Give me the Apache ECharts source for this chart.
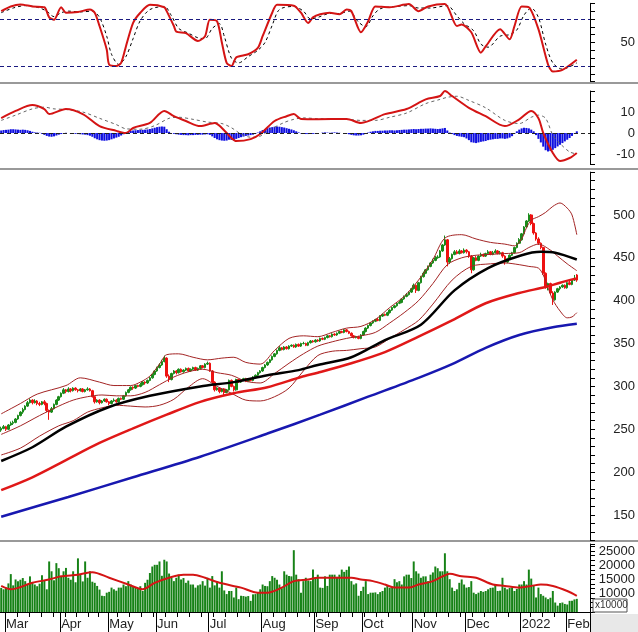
<!DOCTYPE html>
<html>
<head>
<meta charset="utf-8">
<script src="https://cdn.jsdelivr.net/npm/echarts@6/dist/echarts.min.js"></script>
<style>
  html, body { margin: 0; padding: 0; background: #fff; }
  #chart { width: 638px; height: 632px; }
</style>
</head>
<body>
<div id="chart"></div>
<script>
// trading calendar (HOSE), Feb 2021 - Feb 2022
const startDate = "2021-02-25";
const endDate = "2022-02-11";
const holidays = ["2021-04-21", "2021-04-30", "2021-05-03", "2021-09-02", "2021-09-03",
  "2022-01-03", "2022-01-31", "2022-02-01", "2022-02-02", "2022-02-03", "2022-02-04"];
const emptySlots = 5;
const monthNames = ["2022", "Feb", "Mar", "Apr", "May", "Jun", "Jul", "Aug", "Sep", "Oct", "Nov", "Dec"];

// daily candles [open, close, low, high]
const candles = [
  [249,251,247,253],[251,253,250,255],[253,250,248,254],[250,255,249,256],[255,257,254,259],
  [257,258,255,260],[258,262,257,263],[262,266,261,267],[266,270,265,271],[270,273,268,275],
  [273,277,272,278],[277,281,276,283],[281,284,280,286],[284,281,279,285],[281,283,280,285],
  [283,280,278,284],[280,279,277,282],[279,282,278,283],[282,280,278,284],[280,272,270,281],
  [272,270,261,273],[270,274,269,276],[274,279,273,280],[279,284,278,285],[284,288,283,289],
  [288,292,287,293],[292,296,291,298],[296,294,292,297],[294,297,293,299],[297,295,293,298],
  [295,298,294,299],[298,296,295,299],[296,295,293,297],[295,297,294,298],[297,294,293,298],
  [294,296,293,297],[296,297,295,299],[297,295,294,298],[295,288,287,296],[288,282,280,289],
  [282,284,281,285],[284,281,279,285],[281,283,280,284],[283,285,282,286],[285,282,281,286],
  [282,280,278,283],[280,283,279,284],[283,284,282,286],[284,282,281,285],[282,286,281,287],
  [286,285,284,287],[285,289,284,290],[289,293,288,294],[293,296,292,297],[296,299,295,300],
  [299,298,296,300],[298,301,297,302],[301,300,299,302],[300,302,299,304],[302,305,301,306],
  [305,304,302,306],[304,307,303,308],[307,310,306,311],[310,314,309,315],[314,318,313,319],
  [318,322,317,323],[322,325,321,327],[325,329,324,331],[329,333,328,336],[333,312,310,334],
  [312,308,305,314],[308,315,307,316],[315,318,314,319],[318,316,314,319],[316,320,315,321],
  [320,317,316,321],[317,319,316,320],[319,321,318,322],[321,318,317,322],[318,320,317,321],
  [320,322,319,323],[322,319,318,323],[319,321,318,322],[321,324,320,325],[324,322,321,325],
  [322,326,321,327],[326,327,325,329],[327,318,317,328],[318,305,304,319],[305,296,294,306],
  [296,298,295,299],[298,294,292,299],[294,297,293,298],[297,293,290,298],[293,296,292,297],
  [296,307,295,308],[307,300,299,308],[300,296,294,301],[296,308,295,309],[308,305,304,309],
  [305,307,304,308],[307,309,306,310],[309,306,305,310],[306,308,305,309],[308,307,306,309],
  [307,311,306,312],[311,313,310,314],[313,316,312,317],[316,318,315,319],[318,322,317,323],
  [322,325,321,326],[325,328,324,329],[328,331,327,332],[331,335,330,336],[335,338,334,339],
  [338,342,337,343],[342,345,341,347],[345,343,342,346],[343,346,342,347],[346,344,343,347],
  [344,347,343,348],[347,348,346,349],[348,346,345,349],[346,349,345,350],[349,347,346,350],
  [347,350,346,351],[350,350,349,352],[350,348,347,351],[348,351,347,352],[351,353,350,354],
  [353,352,351,354],[352,354,351,355],[354,353,352,355],[353,356,352,357],[356,355,354,357],
  [355,357,354,358],[357,359,356,360],[359,358,357,360],[358,361,357,362],[361,360,359,362],
  [360,362,359,363],[362,364,361,365],[364,363,362,365],[363,366,362,367],[366,364,363,367],
  [364,362,361,365],[362,359,358,363],[359,357,356,360],[357,358,356,359],[358,356,355,359],
  [356,360,355,361],[360,364,359,365],[364,368,363,369],[368,371,367,372],[371,374,370,375],
  [374,376,373,377],[376,378,375,379],[378,377,376,380],[377,382,376,383],[382,384,381,385],
  [384,383,382,385],[383,386,382,387],[386,389,385,390],[389,392,388,393],[392,394,391,395],
  [394,397,393,398],[397,398,396,400],[398,402,397,403],[402,405,401,406],[405,407,404,409],
  [407,410,406,411],[410,414,409,415],[414,418,413,420],[418,412,409,419],[412,421,411,422],
  [421,428,420,429],[428,432,427,434],[432,436,431,437],[436,440,435,441],[440,444,439,445],
  [444,447,443,449],[447,450,446,452],[450,451,449,453],[451,458,450,459],[458,465,457,466],
  [465,471,464,476],[471,445,440,472],[445,449,443,451],[449,454,448,455],[454,457,453,459],
  [457,455,454,459],[455,458,454,460],[458,456,455,459],[456,459,455,461],[459,457,455,460],
  [457,452,450,458],[452,436,432,453],[436,450,435,451],[450,447,446,452],[447,452,446,453],
  [452,454,451,456],[454,452,451,455],[452,455,451,456],[455,457,454,459],[457,454,453,458],
  [454,456,453,458],[456,458,455,460],[458,455,454,459],[455,456,454,458],[456,452,450,457],
  [452,445,442,453],[445,449,444,450],[449,453,448,454],[453,456,452,457],[456,462,455,463],
  [462,467,461,468],[467,471,466,473],[471,478,470,479],[478,486,477,487],[486,493,485,494],
  [493,500,492,502],[500,490,488,501],[490,479,477,491],[479,472,470,480],[472,467,465,474],
  [467,462,460,468],[462,432,430,463],[432,416,414,433],[416,420,412,421],[420,409,407,421],
  [409,401,395,411],[401,410,400,411],[410,414,409,415],[414,416,412,417],[416,418,415,419],
  [418,415,414,419],[415,421,414,422],[421,419,418,423],[419,424,418,425],[424,426,423,430],
  [430,424,422,431]
];

// bollinger bands and moving averages, [day index, value]
const bbUpper = [[0,268],[8,280],[15,291],[27,301],[33,310],[41,305],[47,301],[54,301],[58,305],[62,312],
  [66,326],[69,337],[74,338],[80,334],[86,331],[92,333],[97,334],[102,328],[108,326],[114,342],[120,356],
  [126,359],[132,358],[138,363],[144,368],[150,370],[156,378],[162,392],[168,405],[174,424],[180,448],
  [185,473],[192,477],[198,472],[204,468],[210,466],[214,464],[217,472],[219,485],[221,494],[224,498],
  [227,503],[230,510],[233,514],[236,508],[238,500],[240,477]];
const bbMid = [[0,244],[8,254],[16,266],[24,277],[30,284],[36,288],[42,290],[48,289],[54,289],[60,293],
  [66,302],[72,311],[78,317],[84,320],[90,316],[96,313],[102,306],[108,304],[114,315],[120,327],[126,338],
  [132,347],[138,352],[144,356],[150,359],[156,363],[162,374],[168,386],[174,400],[180,420],[186,442],
  [192,450],[198,453],[204,454],[210,455],[216,456],[220,462],[224,466],[229,459],[232,452],[236,443],[240,435]];
const bbLower = [[0,220],[8,228],[16,242],[24,254],[30,260],[36,270],[42,275],[48,278],[54,277],[60,276],
  [66,278],[72,285],[78,299],[84,309],[90,300],[96,292],[102,284],[108,283],[114,288],[120,298],[126,318],
  [132,336],[138,341],[144,342],[150,344],[156,346],[162,356],[168,366],[174,377],[180,396],[188,424],
  [196,440],[204,443],[210,444],[216,442],[220,440],[224,438],[226,430],[228,415],[230,401],[233,388],
  [236,380],[238,381],[240,386]];
const maBlack = [[0,213],[13,229],[27,253],[45,276],[62,289],[83,300],[97,305],[111,313],[124,319],[132,325],
  [146,334],[160,354],[175,372],[189,412],[203,438],[217,453],[225,457],[231,456],[240,448]];
const maRed = [[0,179],[13,194],[27,214],[41,234],[55,251],[69,267],[83,282],[97,292],[111,299],[125,311],
  [132,316],[146,327],[160,340],[174,358],[188,377],[202,397],[216,409],[227,416],[233,421],[240,426]];
const maBlue = [[0,148],[28,171],[55,194],[83,218],[111,245],[133,267],[153,288],[174,310],[188,326],
  [202,345],[216,360],[230,369],[240,373]];

// volume and its average
const volume = [
  11900,11400,12000,13500,16800,12800,14900,14300,14800,15400,
  14300,13000,16000,13700,13100,12500,13400,16400,14500,11400,
  21300,17800,14600,20700,18900,15900,17800,19000,15500,14800,
  17800,13900,22400,16600,14200,21300,15500,17800,14100,13700,
  12600,11300,9100,9000,10200,10500,12000,11400,10900,12000,
  12000,13100,12500,14300,13100,12300,12000,11700,12500,10800,
  13700,14800,17200,19500,20100,20100,21300,16200,21900,21300,
  17000,15500,14300,15500,16600,14900,15400,13700,14500,13100,
  13100,12000,12800,13100,14300,12700,15500,12000,16100,12800,
  14300,12000,17800,11000,9700,10800,10800,8500,12000,7900,
  9100,9000,8800,9000,7300,9600,9700,10400,11400,13100,
  12600,12500,14300,16100,15500,14800,13100,11800,17800,16600,
  16100,16000,25300,16600,15000,10200,14300,15500,14500,14300,
  18400,15600,16600,12000,11900,16000,12600,16600,16600,16600,
  15800,16600,18400,17600,18300,19500,14300,13100,13500,9100,
  10800,12300,14300,9700,10200,10200,10300,9700,10400,10800,
  12000,12600,11900,12000,15000,13900,14300,13100,16000,16600,
  16600,15400,21300,17800,17000,15500,16000,16000,14300,16600,
  17400,19500,18900,17800,17800,24200,17800,15000,12000,10800,
  11400,13700,14900,13100,12000,12200,14300,10200,9700,10200,
  10800,10500,10800,11400,11900,12000,13100,10800,10900,15500,
  12000,11400,11900,12000,10800,11500,13100,13100,14300,13100,
  18400,15200,12600,8500,12000,9700,9100,8500,7900,8400,
  10800,6700,5600,6500,6700,6200,6000,7300,7300,7800,8000
];
const volAvg = [[0,12600],[4,11400],[13,13700],[20,14900],[25,16000],[32,16600],[38,17500],[45,15500],
  [53,13100],[59,11400],[64,13700],[71,15800],[76,16600],[80,16600],[85,15500],[91,13700],[100,12000],
  [107,10200],[111,10200],[117,12000],[122,14300],[128,14900],[132,15500],[146,15500],[150,14900],
  [155,14300],[160,13100],[164,12000],[170,12000],[174,13100],[180,14300],[184,16000],[187,16900],
  [192,16000],[198,15500],[205,13100],[210,12600],[216,12000],[221,12600],[225,13100],[230,12600],
  [236,10800],[240,9100]];

// MACD
const macdLine = [[0,7.1],[6,10.5],[13,13.3],[18,11.4],[20,9],[27,11.4],[34,9],[41,3.3],[48,1],[52,0],
  [55,2.4],[62,4.8],[68,10.5],[72,8],[77,5.7],[83,3.3],[89,4.8],[92,2.4],[96,-2.4],[98,-3.8],[104,-2.9],
  [108,-0.5],[114,5.7],[119,8],[122,9],[125,6.7],[132,6.6],[144,6.7],[150,4.8],[160,9],[169,11.4],
  [177,16],[183,17.6],[185,20],[188,17.6],[195,12],[202,8],[210,3.3],[216,6.5],[221,10.5],[224,7],
  [226,0],[230,-9.5],[233,-13.3],[237,-11.9],[240,-9.5]];
const macdSignal = [[0,6],[6,8.5],[13,11.5],[18,12.3],[22,11.5],[27,11.2],[34,10],[41,7],[48,4],[52,2],
  [58,1.8],[64,3.5],[70,7],[74,7.5],[80,6.5],[86,5.2],[92,4.5],[96,2.5],[100,-0.5],[104,-2],[108,-1.5],
  [112,1.5],[118,5],[122,6.5],[126,7.2],[132,6.8],[144,6.6],[150,6],[156,6],[162,7.5],[169,9.5],[177,14],
  [183,16],[186,17],[190,17.5],[195,15.5],[202,12],[210,6],[216,4.5],[221,7.5],[224,8.5],[227,7],
  [230,-1],[233,-5],[237,-9],[240,-10]];
const macdHist = [
  1.2,1.4,1.5,1.6,1.8,1.8,1.7,1.6,1.5,1.6, 1.5,1.3,1.0,0.6,0.3,0.2,0.1,-0.4,-0.9,-1.4,
  -1.7,-1.8,-1.6,-1.2,-0.8,-0.5,-0.2,0.1,0.0,-0.2, -0.3,-0.4,-0.5,-0.6,-0.7,-0.8,-1.0,-1.3,-1.8,-2.5,
  -3.0,-3.4,-3.6,-3.7,-3.6,-3.4,-3.0,-2.6,-2.2,-1.8, -1.2,-0.6,0.0,0.6,1.0,1.2,1.3,1.4,1.5,1.5,
  1.6,1.7,1.9,2.2,2.5,2.8,3.0,3.1,3.0,1.8, 0.6,0.0,-0.4,-0.6,-0.8,-0.9,-1.0,-1.0,-1.1,-1.0,
  -1.0,-0.9,-0.9,-0.8,-0.8,-0.7,-0.6,-0.9,-1.6,-2.4, -3.0,-3.4,-3.6,-3.7,-3.6,-3.2,-3.3,-3.5,-2.8,-2.4,
  -2.0,-1.7,-1.4,-1.2,-1.0,-0.8,-0.4,0.2,0.8,1.4, 1.9,2.3,2.6,2.8,3.0,3.1,3.0,2.8,2.6,2.3,
  2.0,1.7,1.3,0.8,0.3,-0.2,-0.4,-0.5,-0.5,-0.4, -0.4,-0.3,-0.2,0.0,0.2,0.3,0.2,0.1,0.2,0.3,
  0.2,0.1,0.0,-0.1,-0.3,-0.6,-0.9,-1.1,-1.2,-1.2, -1.1,-0.8,-0.4,0.2,0.6,0.8,1.0,1.0,1.1,1.1,
  1.2,1.2,1.3,1.3,1.2,1.3,1.4,1.5,1.6,1.6, 1.7,1.8,1.9,1.8,1.9,2.0,2.0,2.1,2.1,2.2,
  2.1,2.0,1.9,2.0,2.2,2.4,1.2,0.2,-0.5,-1.0, -1.4,-1.6,-1.8,-2.0,-2.6,-3.4,-4.4,-4.6,-4.8,-4.5,
  -4.2,-4.0,-3.8,-3.4,-3.2,-3.0,-2.8,-2.8,-2.6,-2.6, -2.8,-2.6,-2.2,-1.5,-0.4,0.8,1.6,2.2,2.5,2.4,
  2.2,1.6,0.8,-1.0,-2.8,-4.5,-6.5,-8.2,-8.8,-8.6, -8.0,-7.2,-6.4,-5.6,-4.8,-4.0,-3.2,-2.4,-1.4,-0.2,0.8
];

// stochastic %K and %D
const stochK = [[0,90],[4,96],[8,98.5],[13,96],[18,95],[20,82],[22,79],[25,95],[27,88],[32,89],[37,92],
  [39,88],[41,71],[44,41],[45,22],[48,20],[50,24],[52,45],[55,75],[58,88],[62,98],[68,95],[69,90],[72,71],
  [73,64],[77,62],[82,52],[85,58],[87,79],[90,77],[92,50],[94,24],[96,20],[98,31],[103,35],[107,43],
  [109,58],[113,88],[115,98],[122,97],[125,88],[128,75],[130,82],[133,86],[137,88],[141,86],[144,92],
  [146,90],[150,63],[153,77],[156,96],[162,95],[170,99],[174,90],[178,96],[185,99],[190,71],[192,73],
  [196,63],[200,37],[202,45],[208,67],[212,54],[214,71],[217,96],[220,95],[224,67],[228,22],[230,13],
  [234,15],[240,28]];
const stochD = [[0,88],[5,94],[10,97],[15,95],[19,90],[22,83],[25,88],[28,90],[33,89],[38,90],[41,82],
  [44,58],[46,35],[49,22],[52,32],[55,55],[58,78],[62,92],[68,96],[71,84],[74,68],[78,62],[82,56],[85,55],
  [88,68],[91,74],[93,58],[96,30],[99,24],[103,32],[107,40],[110,50],[113,72],[116,92],[122,96],[126,90],
  [129,80],[132,82],[137,87],[141,87],[145,90],[149,76],[152,70],[155,84],[158,93],[165,96],[170,97],
  [174,94],[179,94],[186,97],[190,84],[193,74],[197,65],[200,48],[203,44],[208,58],[212,60],[215,66],
  [218,85],[221,94],[224,82],[227,48],[230,24],[234,16],[240,24]];

// build trading days
const days = [];
const end = new Date(endDate + "T00:00:00Z");
for (let d = new Date(startDate + "T00:00:00Z"); d <= end; d.setUTCDate(d.getUTCDate() + 1)) {
  const wd = d.getUTCDay();
  const s = d.toISOString().slice(0, 10);
  if (wd === 0 || wd === 6 || holidays.includes(s)) continue;
  days.push(s);
}
const cats = days.slice();
for (let i = 0; i < emptySlots; i++) cats.push("pad" + i);

const monthStart = new Set();
const mondays = new Set();
days.forEach((s, i) => {
  if (i > 0 && s.slice(5, 7) !== days[i - 1].slice(5, 7)) monthStart.add(i);
  if (new Date(s + "T00:00:00Z").getUTCDay() === 1) mondays.add(i);
});

const FONT = "Liberation Sans";
const labelStyle = { color: "#222", fontSize: 13, fontFamily: FONT, align: "right", margin: 45 };
const GRID_L = 0, GRID_R = 48;

function hiddenX(gridIndex) {
  return { type: "category", gridIndex, data: cats, show: false, boundaryGap: true };
}
function rightY(gridIndex, min, max, interval, fmt) {
  return {
    type: "value", gridIndex, position: "right", min, max, interval,
    axisLine: { show: true, lineStyle: { color: "#000", width: 1 } },
    axisTick: { show: true, inside: false, length: 5, lineStyle: { color: "#000" } },
    axisLabel: Object.assign({ formatter: fmt }, labelStyle),
    splitLine: { show: false },
  };
}
function line(name, data, xi, color, width, type, smooth) {
  return {
    name, type: "line", xAxisIndex: xi, yAxisIndex: xi, data,
    symbol: "none", smooth: smooth, clip: true,
    lineStyle: { color, width, type: type || "solid" },
  };
}
function monthLabel(v) {
  const m = +v.slice(5, 7);
  return m === 1 ? monthNames[0] : monthNames[m - 1];
}

const chart = echarts.init(document.getElementById("chart"), null, { renderer: "canvas" });

const option = {
  animation: false,
  backgroundColor: "#fff",
  grid: [
    { left: GRID_L, right: GRID_R, top: 3.3, height: 78.4 },
    { left: GRID_L, right: GRID_R, top: 91, height: 73.5 },
    { left: GRID_L, right: GRID_R, top: 172.1, height: 368.6 },
    { left: GRID_L, right: GRID_R, top: 544, height: 68 },
    { left: GRID_L, right: GRID_R, top: 544, height: 68 },
  ],
  xAxis: [
    hiddenX(0), hiddenX(1), hiddenX(2),
    {
      type: "category", gridIndex: 3, data: cats, boundaryGap: true, position: "bottom",
      axisLine: { show: true, lineStyle: { color: "#000", width: 1 } },
      axisTick: { show: true, length: 20, interval: (i) => monthStart.has(i), lineStyle: { color: "#000" } },
      axisLabel: {
        interval: (i) => monthStart.has(i),
        formatter: monthLabel,
        align: "left", margin: 6, color: "#222", fontSize: 13, fontFamily: FONT,
      },
    },
    {
      type: "category", gridIndex: 4, data: cats, boundaryGap: true, position: "bottom",
      axisLine: { show: false },
      axisTick: { show: true, length: 5, interval: (i) => mondays.has(i), lineStyle: { color: "#000" } },
      axisLabel: { show: false },
    },
  ],
  yAxis: [
    rightY(0, 0, 100, 10, (v) => (v === 50 ? "50" : "")),
    rightY(1, -15, 20, 5, (v) => (v === 10 || v === 0 || v === -10 ? String(v) : "")),
    rightY(2, 120, 550, 10, (v) => (v % 50 === 0 && v >= 150 && v <= 500 ? String(v) : "")),
    rightY(3, 10000 / 3, 27500, 5000 / 3, (v) => {
      const r = Math.round(v);
      return r % 5000 === 0 && r >= 10000 ? String(r) : "";
    }),
    { type: "value", gridIndex: 4, show: false, min: 0, max: 1 },
  ],
  graphic: [
    { type: "rect", shape: { x: 0, y: 82, width: 638, height: 2 }, style: { fill: "#999" }, silent: true },
    { type: "rect", shape: { x: 0, y: 168, width: 638, height: 2 }, style: { fill: "#999" }, silent: true },
    { type: "rect", shape: { x: 0, y: 540, width: 638, height: 2 }, style: { fill: "#999" }, silent: true },
    { type: "rect", shape: { x: 591, y: 614, width: 47, height: 18 }, style: { fill: "#e8e8e8" }, silent: true },
    {
      type: "rect", shape: { x: 593, y: 599, width: 34, height: 13 },
      style: { fill: "#fff", stroke: "#555", lineWidth: 1 }, silent: true, z: 10,
    },
    {
      type: "text", x: 595, y: 600, z: 11, silent: true,
      style: { text: "x10000", fill: "#333", font: "10px " + FONT },
    },
  ],
  series: [
    // stochastic
    line("stochD", stochD, 0, "#000", 1, [3, 3], 0.3),
    Object.assign(line("stochK", stochK, 0, "#d41414", 2, "solid", 0.25), {
      markLine: {
        silent: true, symbol: "none", label: { show: false },
        lineStyle: { color: "#1a1a80", type: [4, 3], width: 1 },
        data: [{ yAxis: 80 }, { yAxis: 20 }],
      },
    }),
    // MACD
    {
      name: "hist", type: "bar", xAxisIndex: 1, yAxisIndex: 1, data: macdHist,
      barWidth: "85%", itemStyle: { color: "#1010e0" },
      markLine: {
        silent: true, symbol: "none", label: { show: false },
        lineStyle: { color: "#222", type: [4, 3], width: 1 },
        data: [{ yAxis: 0 }],
      },
    },
    line("signal", macdSignal, 1, "#666", 1, [3, 3], 0.3),
    line("macd", macdLine, 1, "#d41414", 2, "solid", 0.3),
    // price
    line("bbUpper", bbUpper, 2, "#a32424", 1, "solid", 0.3),
    line("bbMid", bbMid, 2, "#a32424", 1, "solid", 0.3),
    line("bbLower", bbLower, 2, "#a32424", 1, "solid", 0.3),
    line("maBlue", maBlue, 2, "#1818b0", 2.5, "solid", 0.3),
    line("maRed", maRed, 2, "#e01818", 2.5, "solid", 0.3),
    line("maBlack", maBlack, 2, "#000", 2.5, "solid", 0.3),
    {
      name: "price", type: "candlestick", xAxisIndex: 2, yAxisIndex: 2,
      data: candles,
      barWidth: "85%",
      itemStyle: { color: "#1a8a1a", color0: "#ee1111", borderColor: "#1a8a1a", borderColor0: "#ee1111", borderWidth: 1 },
    },
    // volume
    {
      name: "volume", type: "bar", xAxisIndex: 3, yAxisIndex: 3, data: volume,
      barWidth: "82%", itemStyle: { color: "#168216" },
    },
    line("volAvg", volAvg, 3, "#d41414", 2, "solid", 0.3),
  ],
};

chart.setOption(option);
</script>
</body>
</html>
